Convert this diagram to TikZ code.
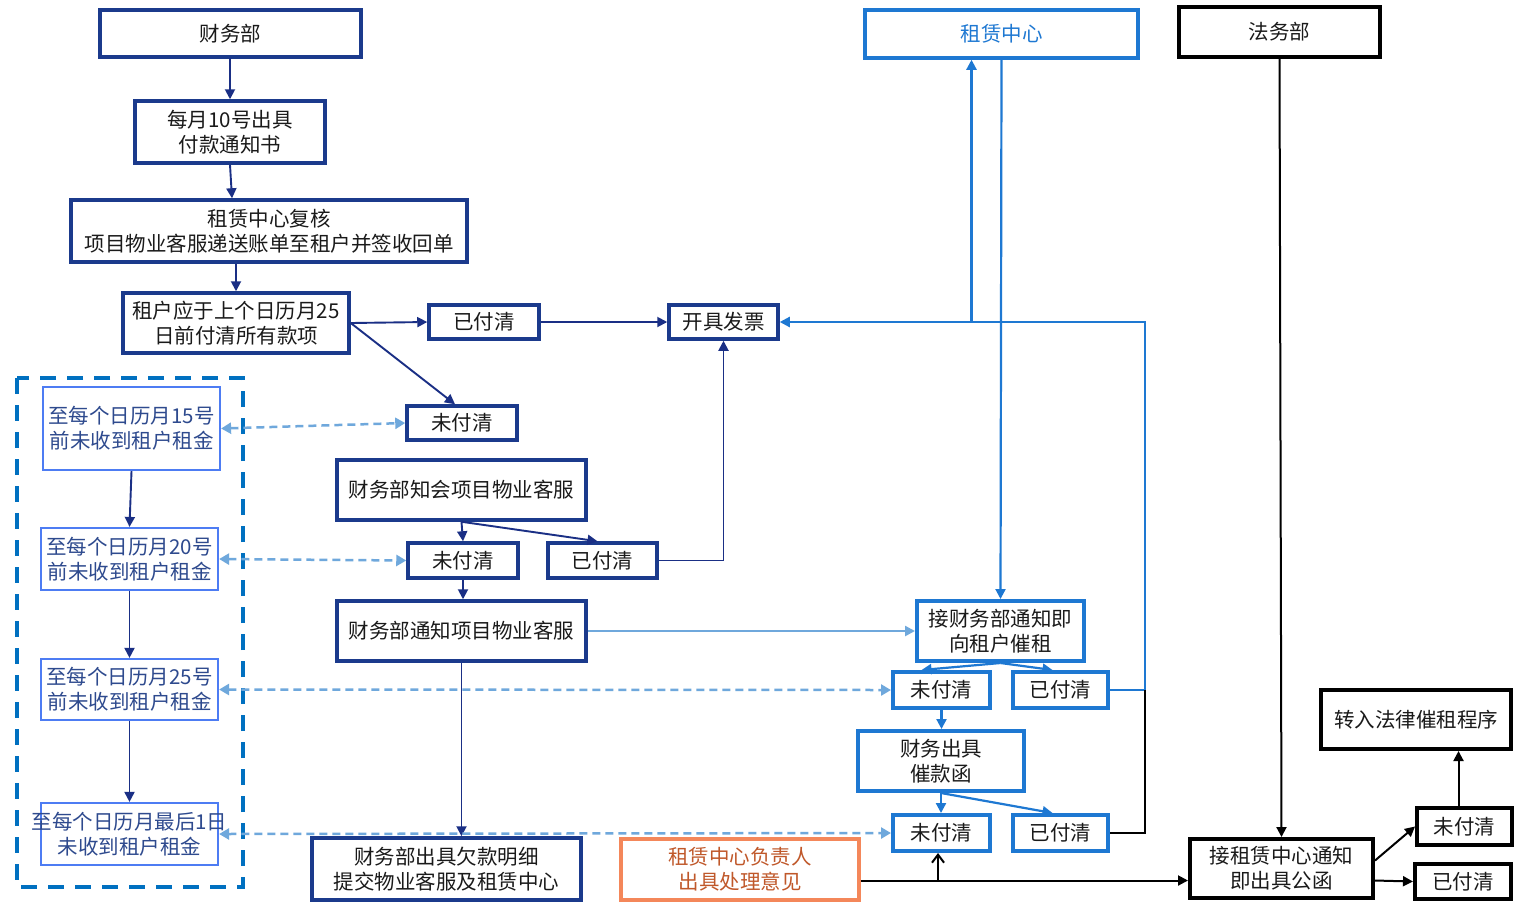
\documentclass[tikz,border=0pt]{standalone}
\usepackage{fontspec}
\newfontfamily\cjk{Noto Sans CJK SC}
\usetikzlibrary{arrows.meta}
\definecolor{navy}{HTML}{1B3A8C}
\definecolor{navyln}{HTML}{1A2F85}
\definecolor{bblue}{HTML}{1E78D2}
\definecolor{lblue}{HTML}{6FA8DC}
\definecolor{lbox}{HTML}{4D7CF3}
\definecolor{ltext}{HTML}{2E4A8E}
\definecolor{dashbox}{HTML}{0070C0}
\definecolor{orng}{HTML}{F4875A}
\definecolor{orngtext}{HTML}{C0582A}
\definecolor{txt}{HTML}{1A1A1A}
\tikzset{
  base/.style={draw, line width=3.5pt, inner sep=0pt, align=center, text=txt,
    font=\cjk\fontsize{20.5}{25}\selectfont},
  navybox/.style={base, draw=navy},
  bluebox/.style={base, draw=bblue, line width=4pt},
  topblue/.style={base, draw=bblue, text=bblue},
  blackbox/.style={base, draw=black, line width=4pt},
  leftbox/.style={base, line width=2.2pt, draw=lbox, text=ltext},
  orangebox/.style={base, draw=orng, text=orngtext},
  tri/.style={-{Triangle[length=10pt,width=10pt]}},
  navln/.style={tri, draw=navyln, line width=1.9pt},
  blueln/.style={tri, draw=bblue, line width=2.2pt},
  lblueln/.style={tri, draw=lblue, line width=2.4pt},
  dashln/.style={{Triangle[length=10pt,width=11pt]}-{Triangle[length=10pt,width=11pt]}, draw=lblue, line width=2.5pt, dash pattern=on 8pt off 5pt},
  blackln/.style={tri, draw=black, line width=2pt},
}
\begin{document}
\begin{tikzpicture}[x=1pt,y=-1pt]
\useasboundingbox[fill=white] (0,0) rectangle (1522,914);
% left dashed group
\draw[dashbox, line width=4.5pt, dash pattern=on 16pt off 11pt] (17,378) rectangle (243,887);

% left column
\node[navybox, minimum width=261, minimum height=47] (cw) at (230.5,33.5) {财务部};
\node[navybox, minimum width=190, minimum height=62] (m10) at (230,132) {每月10号出具\\付款通知书};
\node[navybox, minimum width=396, minimum height=62] (fh) at (269,231) {租赁中心复核\\项目物业客服递送账单至租户并签收回单};
\node[navybox, minimum width=226, minimum height=60] (zh) at (236,323) {租户应于上个日历月25\\日前付清所有款项};
\node[navybox, minimum width=110, minimum height=34] (p1) at (484,322) {已付清};
\node[navybox, minimum width=109, minimum height=34] (inv) at (723.5,322) {开具发票};
\node[navybox, minimum width=110, minimum height=34] (u1) at (462,423) {未付清};
\node[navybox, minimum width=249, minimum height=60] (zhi) at (461.5,490) {财务部知会项目物业客服};
\node[navybox, minimum width=110, minimum height=35] (u2) at (463,560.5) {未付清};
\node[navybox, minimum width=109, minimum height=35] (p2) at (602.5,560.5) {已付清};
\node[navybox, minimum width=249, minimum height=60] (tz) at (461.5,631) {财务部通知项目物业客服};
\node[navybox, minimum width=269, minimum height=62] (qk) at (446.5,869) {财务部出具欠款明细\\提交物业客服及租赁中心};
\node[orangebox, minimum width=238, minimum height=61] (og) at (740,869.5) {租赁中心负责人\\出具处理意见};

\node[leftbox, minimum width=177, minimum height=83] (d15) at (131.5,428.5) {至每个日历月15号\\前未收到租户租金};
\node[leftbox, minimum width=177, minimum height=62] (d20) at (129.5,559) {至每个日历月20号\\前未收到租户租金};
\node[leftbox, minimum width=177, minimum height=61] (d25) at (129.5,689.5) {至每个日历月25号\\前未收到租户租金};
\node[leftbox, minimum width=177, minimum height=62] (dl) at (129.5,834) {\makebox[0pt][c]{至每个日历月最后1日}\\未收到租户租金};

% right part
\node[topblue, minimum width=273, minimum height=48] (rc) at (1001.5,34) {租赁中心};
\node[blackbox, minimum width=201, minimum height=50] (fw) at (1279.5,32) {法务部};
\node[bluebox, minimum width=167, minimum height=60] (jc) at (1000.5,631) {接财务部通知即\\向租户催租};
\node[bluebox, minimum width=97, minimum height=36] (u3) at (941.5,690) {未付清};
\node[bluebox, minimum width=95, minimum height=36] (p3) at (1060.5,690) {已付清};
\node[bluebox, minimum width=166, minimum height=60] (cf) at (941,761) {财务出具\\催款函};
\node[bluebox, minimum width=97, minimum height=36] (u4) at (941.5,833) {未付清};
\node[bluebox, minimum width=95, minimum height=36] (p4) at (1060.5,833) {已付清};
\node[blackbox, minimum width=183, minimum height=59] (gh) at (1281.5,868.5) {接租赁中心通知\\即出具公函};
\node[blackbox, minimum width=190, minimum height=59] (zr) at (1416,719.5) {转入法律催租程序};
\node[blackbox, minimum width=95, minimum height=37] (u5) at (1464.5,826.5) {未付清};
\node[blackbox, minimum width=96, minimum height=35] (p5) at (1463,881.5) {已付清};

\coordinate (j1) at (1145,322);
\coordinate (j2) at (1145,690);

% navy connectors
\draw[navln] (cw.south) -- (m10.south |- cw.south) -- (m10.north);
\draw[navln] (m10.south) -- ([xshift=2]m10.south |- fh.north);
\draw[navln] ([xshift=-33]fh.south) -- ([xshift=0]zh.north);
\draw[navln] (zh.east) -- (p1.west);
\draw[navln] (zh.east) -- ([xshift=-7]u1.north);
\draw[navln] (p1.east) -- (inv.west);
\draw[navln] (zhi.south) -- (u2.north);
\draw[navln] (zhi.south) -- ([xshift=-5]p2.north);
\draw[navln] (p2.east) -| (inv.south);
\draw[navln] (u2.south) -- (tz.north -| u2.south);
\draw[navln] (tz.south) -- (qk.north -| tz.south);
\draw[navln] (d15.south) -- (d20.north);
\draw[navln] (d20.south) -- (d25.north);
\draw[navln] (d25.south) -- (dl.north);

% dashed double arrows
\draw[dashln] (d15.east) -- (u1.west);
\draw[dashln] (d20.east) -- (u2.west);
\draw[dashln] (d25.east) -- (u3.west);
\draw[dashln] (dl.east) -- (u4.west);

% blue connectors
\draw[lblueln] (tz.east) -- (jc.west);
\draw[blueln] (rc.south) -- (jc.north);
\draw[blueln] (jc.south) -- ([xshift=-20]u3.north);
\draw[blueln] (jc.south) -- ([xshift=-8]p3.north);
\draw[blueln] (u3.south) -- (u3.south |- cf.north);
\draw[blueln] (cf.south) -- (u4.north -| cf.south);
\draw[blueln] (cf.south) -- ([xshift=-8]p4.north);
\draw[blueln] (p3.east) -| (j1) -- (inv.east);
\draw[blueln] ([xshift=-30]rc.south |- inv.east) -- ([xshift=-30]rc.south);
\draw[black, line width=2pt] (p4.east) -| (j2);

% black connectors
\draw[blackln] (fw.south) -- (gh.north);
\draw[blackln] ([yshift=-11]og.east) -- ([yshift=-12]gh.west);
\draw[black, line width=2pt, -{Straight Barb[length=8pt,width=12pt]}] ([xshift=-3.5]u4.south |- 0,880.5) -- ([xshift=-3.5]u4.south);
\draw[blackln] ([yshift=8]gh.east) -- (u5.west);
\draw[blackln] ([yshift=-12]gh.east) -- (p5.west);
\draw[blackln] ([xshift=-6]u5.north) -- ([xshift=-6]u5.north |- zr.south);
\end{tikzpicture}
\end{document}
